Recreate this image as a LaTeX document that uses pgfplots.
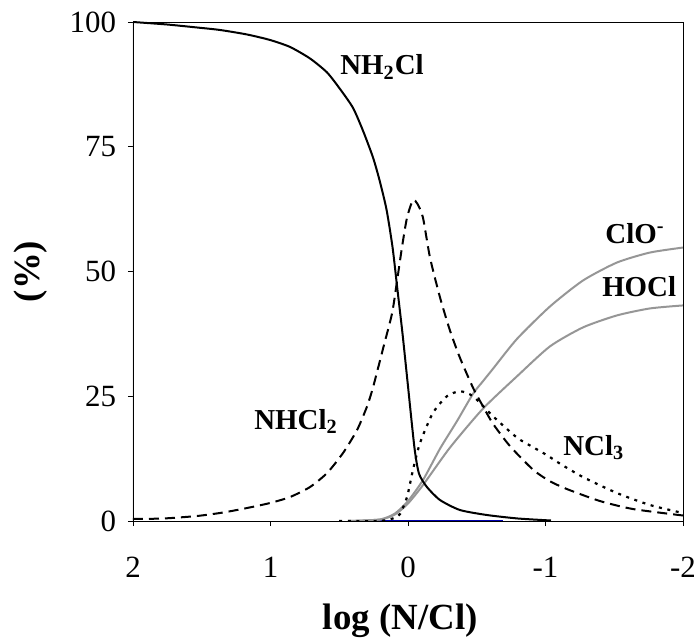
\documentclass[border=0pt]{standalone}
\usepackage{pgfplots}
\pgfplotsset{compat=1.18}
\usepackage{fontspec}
\setmainfont{Liberation Serif}

\definecolor{curvegray}{RGB}{150,150,150}
\definecolor{framegray}{RGB}{140,140,140}

\begin{document}
\begin{tikzpicture}
\begin{axis}[
    name=ax,
    scale only axis,
    width=275bp, height=249.5bp,
    xmin=-2, xmax=2, x dir=reverse,
    ymin=0, ymax=100,
    xtick={-2,-1,0,1,2},
    ytick={0,25,50,75,100},
    xtick pos=bottom, ytick pos=left,
    tick align=outside,
    major tick length=2.5bp,
    tick style={black, line width=0.4bp},
    axis line style={black, line width=0.4bp},
    /pgf/number format/assume math mode=true,
    tick label style={font=\fontsize{15.5}{18}\selectfont},
    xticklabel style={yshift=-12bp},
    yticklabel style={xshift=-2.5bp},
    xlabel={log (N/Cl)},
    ylabel={(\%)},
    label style={font=\fontsize{18.5}{22}\bfseries},
    xlabel style={at={(axis description cs:0.486,0)}, anchor=center, yshift=-50bp},
    ylabel style={at={(axis description cs:-0.1855,0.5)}, anchor=center},
    clip=true,
]

% frame: grey left and bottom edges
\draw[framegray, line width=0.5bp] (rel axis cs:0,0) -- (rel axis cs:0,1);
\draw[framegray, line width=0.5bp] (axis cs:2,0) -- (axis cs:0.36,0);

% blue zero line
\addplot[color=blue!70!black, line width=0.6bp] coordinates {
(0.36,0)(-0.69,0)
};

% HOCl
\addplot[color=curvegray, line width=1bp, smooth, tension=0.4] coordinates {
(0.436,0)(0.204,0.3)(0.095,1.3)(0,3.5)(-0.109,7.2)(-0.305,14.7)(-0.545,22.5)
(-0.793,29)(-1.033,35)(-1.273,38.8)(-1.52,41.2)(-1.76,42.6)(-2,43.2)
};

% ClO-
\addplot[color=curvegray, line width=1bp, smooth, tension=0.4] coordinates {
(0.436,0)(0.204,0.3)(0.095,1.5)(0,4)(-0.109,8.2)(-0.233,14.5)(-0.356,20)
(-0.473,25.5)(-0.545,28)(-0.618,30.5)(-0.793,36.5)(-1.033,43)(-1.273,48.2)
(-1.52,51.8)(-1.76,53.8)(-2,54.8)
};

% NCl3
\addplot[color=black, line width=1.1bp, dash pattern=on 1.5bp off 2.8bp, smooth, tension=0.4] coordinates {
(0.5,0)(0.204,0)(0.1,0.6)(0.058,1.4)(0.007,4.8)(-0.036,10.2)(-0.087,15.6)
(-0.18,21.6)(-0.283,25)(-0.378,26)(-0.473,25)(-0.618,21)(-0.793,16.7)
(-0.909,14.8)(-1.01,13.2)(-1.105,11.5)(-1.273,8.8)(-1.52,5.6)(-1.76,3.2)(-2,1.6)
};

% NHCl2
\addplot[color=black, line width=1bp, dash pattern=on 5bp off 3bp, smooth, tension=0.4] coordinates {
(2,0.4)(1.78,0.5)(1.535,1.0)(1.345,1.7)(1.171,2.6)(1.004,3.6)(0.858,4.8)
(0.713,6.8)(0.589,9.6)(0.473,13.6)(0.371,18.2)(0.30,22.8)(0.255,26.7)
(0.18,34.7)(0.116,41.6)(0.08,48)(0.044,54.8)(0.007,60.8)
(-0.036,64.3)(-0.07,63.5)(-0.109,60.8)(-0.16,52.8)(-0.233,44.8)(-0.305,38.2)
(-0.378,32.7)(-0.473,26.7)(-0.545,23)(-0.618,19.5)(-0.742,15)(-0.909,10.3)
(-1.03,8)(-1.156,6.4)(-1.396,4)(-1.636,2.4)(-2,1.1)
};

% NH2Cl
\addplot[color=black, line width=1bp, smooth, tension=0.4] coordinates {
(2,100)(1.753,99.5)(1.535,98.9)(1.367,98.4)(1.171,97.5)(1.004,96.4)
(0.858,95.0)(0.713,92.7)(0.589,89.9)(0.495,86.6)(0.40,82.8)(0.327,78.2)
(0.255,72.9)(0.207,68.3)(0.156,62.4)(0.112,54.8)(0.076,46.2)(0.040,37.6)
(0.004,28.1)(-0.047,14.7)(-0.08,9.5)(-0.138,6.8)(-0.233,4.2)(-0.378,2.2)
(-0.574,1.2)(-0.80,0.5)(-1.04,0.1)
};
\addplot[color=black, line width=0.5bp] coordinates {
(-0.69,0)(-2,0)
};

\tikzset{lbl/.style={anchor=base west, inner sep=0pt, font=\fontsize{14.5}{18}\bfseries}}
\node[lbl] at (axis cs:0.495,89.4) {NH\textsubscript{2}Cl};
\node[lbl] at (axis cs:1.12,18.4) {NHCl\textsubscript{2}};
\node[lbl] at (axis cs:-1.127,13.2) {NCl\textsubscript{3}};
\node[lbl] at (axis cs:-1.433,55.7) {ClO\textsuperscript{-}};
\node[lbl] at (axis cs:-1.41,44.9) {HOCl};
\end{axis}
\pgfresetboundingbox
\path[use as bounding box] ([shift={(-66.5bp,-60.5bp)}]ax.south west) rectangle ([shift={(281.5bp,260.5bp)}]ax.south west);
\end{tikzpicture}
\end{document}
